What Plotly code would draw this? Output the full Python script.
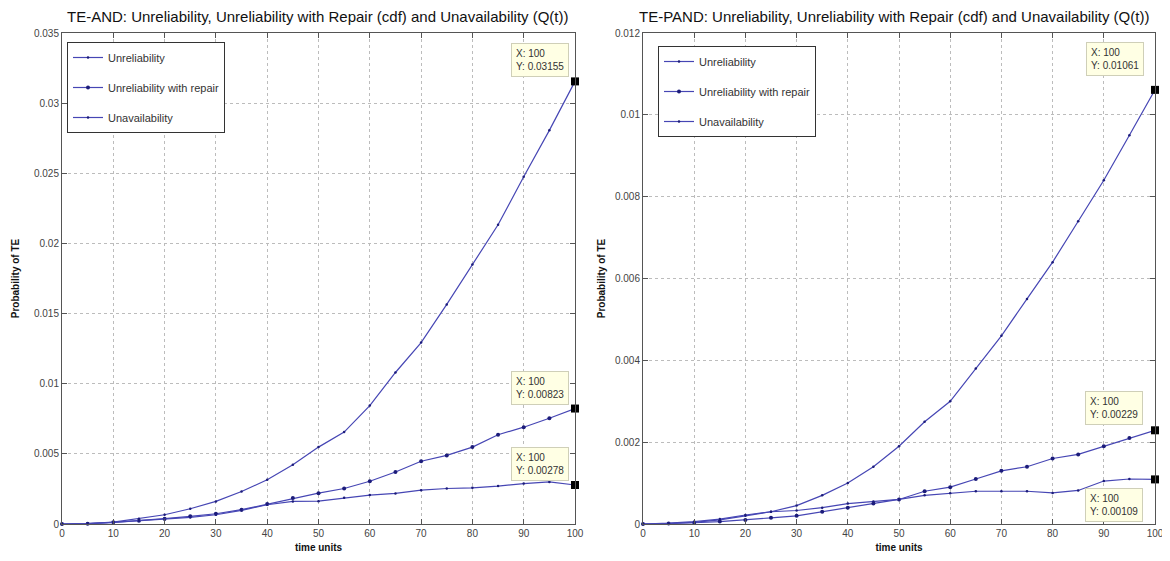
import plotly.graph_objects as go

# ---------------- data ----------------
time_units = [0, 5, 10, 15, 20, 25, 30, 35, 40, 45, 50, 55, 60, 65, 70, 75, 80, 85, 90, 95, 100]

and_unreliability = [0, 0.00003, 0.00014, 0.00038, 0.00066, 0.00109, 0.00161, 0.00232, 0.00315, 0.00422,
                     0.00548, 0.00655, 0.00844, 0.0108, 0.01293, 0.01565, 0.01849, 0.02133, 0.02475, 0.02806, 0.03155]
and_unrel_repair = [0, 0.00002, 0.00012, 0.00024, 0.00038, 0.00055, 0.00073, 0.00102, 0.00142, 0.00185,
                    0.0022, 0.00253, 0.00305, 0.00371, 0.00447, 0.00489, 0.00548, 0.00636, 0.0069, 0.00754, 0.00823]
and_unavailability = [0, 0.00002, 0.00012, 0.00024, 0.00031, 0.00047, 0.00066, 0.00097, 0.00137, 0.00161,
                      0.00163, 0.00187, 0.00206, 0.00218, 0.00241, 0.00253, 0.00258, 0.0027, 0.00288, 0.003, 0.00278]

pand_unreliability = [0, 0.00001, 0.00004, 0.0001, 0.0002, 0.0003, 0.00045, 0.0007, 0.001, 0.0014,
                      0.0019, 0.0025, 0.003, 0.0038, 0.0046, 0.0055, 0.0064, 0.0074, 0.0084, 0.0095, 0.01061]
pand_unrel_repair = [0, 0.00001, 0.00003, 0.00006, 0.0001, 0.00015, 0.0002, 0.0003, 0.0004, 0.0005,
                     0.0006, 0.0008, 0.0009, 0.0011, 0.0013, 0.0014, 0.0016, 0.0017, 0.0019, 0.0021, 0.00229]
pand_unavailability = [0, 0.00002, 0.00006, 0.00012, 0.00022, 0.0003, 0.00033, 0.0004, 0.0005, 0.00055,
                       0.0006, 0.0007, 0.00075, 0.0008, 0.0008, 0.0008, 0.00076, 0.00082, 0.00105, 0.0011, 0.00109]

series_names = ["Unreliability", "Unreliability with repair", "Unavailability"]
titles = ["TE-AND: Unreliability, Unreliability with Repair (cdf) and Unavailability (Q(t))",
          "TE-PAND: Unreliability, Unreliability with Repair (cdf) and Unavailability (Q(t))"]

tip_x = 100
and_tips = [0.03155, 0.00823, 0.00278]
pand_tips = [0.01061, 0.00229, 0.00109]

x_ticks = [0, 10, 20, 30, 40, 50, 60, 70, 80, 90, 100]
and_y_ticks = [0, 0.005, 0.01, 0.015, 0.02, 0.025, 0.03, 0.035]
pand_y_ticks = [0, 0.002, 0.004, 0.006, 0.008, 0.01, 0.012]

# ---------------- figure ----------------
OFF = 8                      # default page body margin
W, H = 1170 - 2 * OFF, 561 - 2 * OFF
fig = go.Figure()

LINE = "#4646b4"
MARK = "#1c1c7a"
marker_sizes = [2.5, 4, 2.5]

def px_x(p):
    return (p - OFF) / W

def px_y(p):
    return 1 - (p - OFF) / H

panels = [
    dict(xa="x", ya="y", legend="legend",
         data=[and_unreliability, and_unrel_repair, and_unavailability], tips=and_tips),
    dict(xa="x2", ya="y2", legend="legend2",
         data=[pand_unreliability, pand_unrel_repair, pand_unavailability], tips=pand_tips),
]

for pi, p in enumerate(panels):
    for si, (name, ys) in enumerate(zip(series_names, p["data"])):
        fig.add_trace(go.Scatter(
            x=time_units, y=ys, name=name, mode="lines+markers",
            line=dict(color=LINE, width=1.2),
            marker=dict(color=MARK, size=marker_sizes[si], symbol="circle"),
            xaxis=p["xa"], yaxis=p["ya"], legend=p["legend"],
            legendgroup=f"g{pi}{si}", showlegend=True, cliponaxis=False,
        ))
    fig.add_trace(go.Scatter(
        x=[tip_x] * len(p["tips"]), y=p["tips"], mode="markers",
        marker=dict(color="black", size=8, symbol="square"),
        xaxis=p["xa"], yaxis=p["ya"], showlegend=False, cliponaxis=False,
    ))

# data tip boxes
tip_style = dict(showarrow=False, align="left", bgcolor="#ffffe4", bordercolor="#cfcfb8",
                 borderwidth=1, borderpad=4, font=dict(family="Liberation Sans, Arial", size=10, color="#333333"))
for v in and_tips:
    fig.add_annotation(x=tip_x, y=v, xref="x", yref="y", xanchor="right", yanchor="bottom",
                       xshift=-6, yshift=4, text=f"X: {tip_x}<br>Y: {v:.5f}", **tip_style)
shifts = [(-11, 14, "bottom"), (-12, 5, "bottom"), (-12, -9, "top")]
for v, (xs, ys, ya) in zip(pand_tips, shifts):
    fig.add_annotation(x=tip_x, y=v, xref="x2", yref="y2", xanchor="right", yanchor=ya,
                       xshift=xs, yshift=ys, text=f"X: {tip_x}<br>Y: {v:.5f}", **tip_style)

# titles
for t, cx in zip(titles, [318, 894]):
    fig.add_annotation(x=px_x(cx), y=px_y(16), xref="paper", yref="paper", showarrow=False,
                       text=t, font=dict(family="Liberation Sans, Arial", size=15, color="#111111"),
                       xanchor="center", yanchor="middle")

axis_common = dict(showline=True, linecolor="#555555", linewidth=1, mirror="ticks",
                   ticks="inside", ticklen=5, tickcolor="#555555", automargin=False,
                   ticklabeloverflow="allow",
                   showgrid=True, gridcolor="#bcbcbc", griddash="dot", gridwidth=1,
                   zeroline=False, tickfont=dict(family="Liberation Sans, Arial", size=10, color="#444444"))
title_font = dict(family="Liberation Sans, Arial", size=10, color="#111111")
legend_font = dict(family="Liberation Sans, Arial", size=11, color="#333333")

fig.update_layout(
    width=W, height=H, paper_bgcolor="white", plot_bgcolor="white",
    margin=dict(l=0, r=0, t=0, b=0),
    showlegend=True,
    xaxis=dict(domain=[px_x(62), px_x(575)], range=[0, 100], tickvals=x_ticks, anchor="y",
               title=dict(text="<b>time units</b>", font=title_font, standoff=6), **axis_common),
    yaxis=dict(domain=[px_y(524), px_y(33)], range=[0, 0.035], tickvals=and_y_ticks, anchor="x",
               title=dict(text="<b>Probability of TE</b>", font=title_font, standoff=12), **axis_common),
    xaxis2=dict(domain=[px_x(643), px_x(1155)], range=[0, 100], tickvals=x_ticks, anchor="y2",
                title=dict(text="<b>time units</b>", font=title_font, standoff=6), **axis_common),
    yaxis2=dict(domain=[px_y(524), px_y(33)], range=[0, 0.012], tickvals=pand_y_ticks, anchor="x2",
                title=dict(text="<b>Probability of TE</b>", font=title_font, standoff=7), **axis_common),
    legend=dict(x=px_x(67), y=px_y(42), xanchor="left", yanchor="top", bgcolor="white",
                bordercolor="#333333", borderwidth=1, tracegroupgap=11, font=legend_font),
    legend2=dict(x=px_x(658), y=px_y(46), xanchor="left", yanchor="top", bgcolor="white",
                 bordercolor="#333333", borderwidth=1, tracegroupgap=11, font=legend_font),
)

fig.write_html("out.html")
